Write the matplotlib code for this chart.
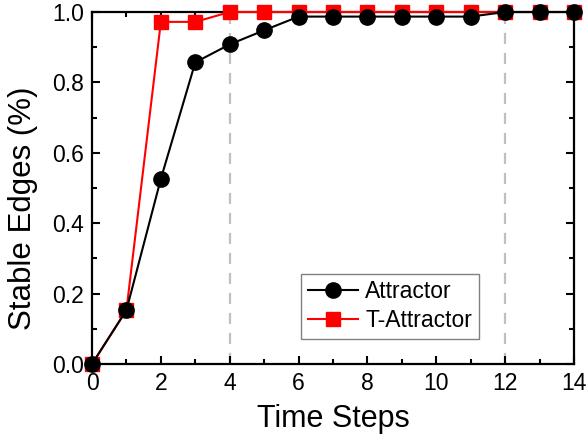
import matplotlib
matplotlib.use("Agg")
import matplotlib.pyplot as plt
from matplotlib.ticker import MultipleLocator

steps = list(range(15))
attractor = [0.0, 0.153, 0.526, 0.857, 0.908, 0.948, 0.987, 0.987, 0.987, 0.987, 0.987, 0.987, 1.0, 1.0, 1.0]
t_attractor = [0.0, 0.153, 0.972, 0.972, 1.0, 1.0, 1.0, 1.0, 1.0, 1.0, 1.0, 1.0, 1.0, 1.0, 1.0]
vlines = [4, 12]

plt.rcParams['font.family'] = ['Liberation Sans', 'DejaVu Sans']

fig = plt.figure(figsize=(5.86, 4.37), dpi=100)
ax = fig.add_axes([0.157, 0.167, 0.9795 - 0.157, 0.9725 - 0.167])

for v in vlines:
    ax.axvline(v, color='#c0c0c0', lw=1.6, ls=(0, (5, 4)), zorder=1)

ax.plot(steps, t_attractor, color='#ff0000', marker='s', ms=9.5, lw=1.5,
        label='T-Attractor', clip_on=False, zorder=3)
ax.plot(steps, attractor, color='black', marker='o', ms=11, lw=1.5,
        label='Attractor', clip_on=False, zorder=4)

ax.set_xlim(0, 14)
ax.set_ylim(0, 1.0)
ax.xaxis.set_major_locator(MultipleLocator(2))
ax.xaxis.set_minor_locator(MultipleLocator(1))
ax.yaxis.set_major_locator(MultipleLocator(0.2))
ax.yaxis.set_minor_locator(MultipleLocator(0.1))
ax.yaxis.set_major_formatter(matplotlib.ticker.FormatStrFormatter('%.1f'))

ax.tick_params(which='both', direction='in', top=True, right=True, width=1.5,
               labelsize=16.5)
ax.tick_params(which='major', length=6)
ax.tick_params(axis='x', which='major', pad=6)
ax.tick_params(axis='y', which='major', pad=6)
ax.tick_params(which='minor', length=3.5)
for s in ax.spines.values():
    s.set_linewidth(1.6)

ax.set_xlabel('Time Steps', fontsize=22, labelpad=6)
ax.set_ylabel('Stable Edges (%)', fontsize=22.5)
ax.yaxis.set_label_coords(-0.112, 0.443)

handles, labels = ax.get_legend_handles_labels()
leg = ax.legend(handles[::-1], labels[::-1], loc='lower right',
                bbox_to_anchor=(0.803, 0.071), fontsize=16.5, fancybox=False,
                edgecolor='#808080', framealpha=1, handlelength=2.2,
                handletextpad=0.3, borderpad=0.3, labelspacing=0.25,
                borderaxespad=0)
leg.get_frame().set_linewidth(1.0)

fig.savefig('out.png', dpi=100)
